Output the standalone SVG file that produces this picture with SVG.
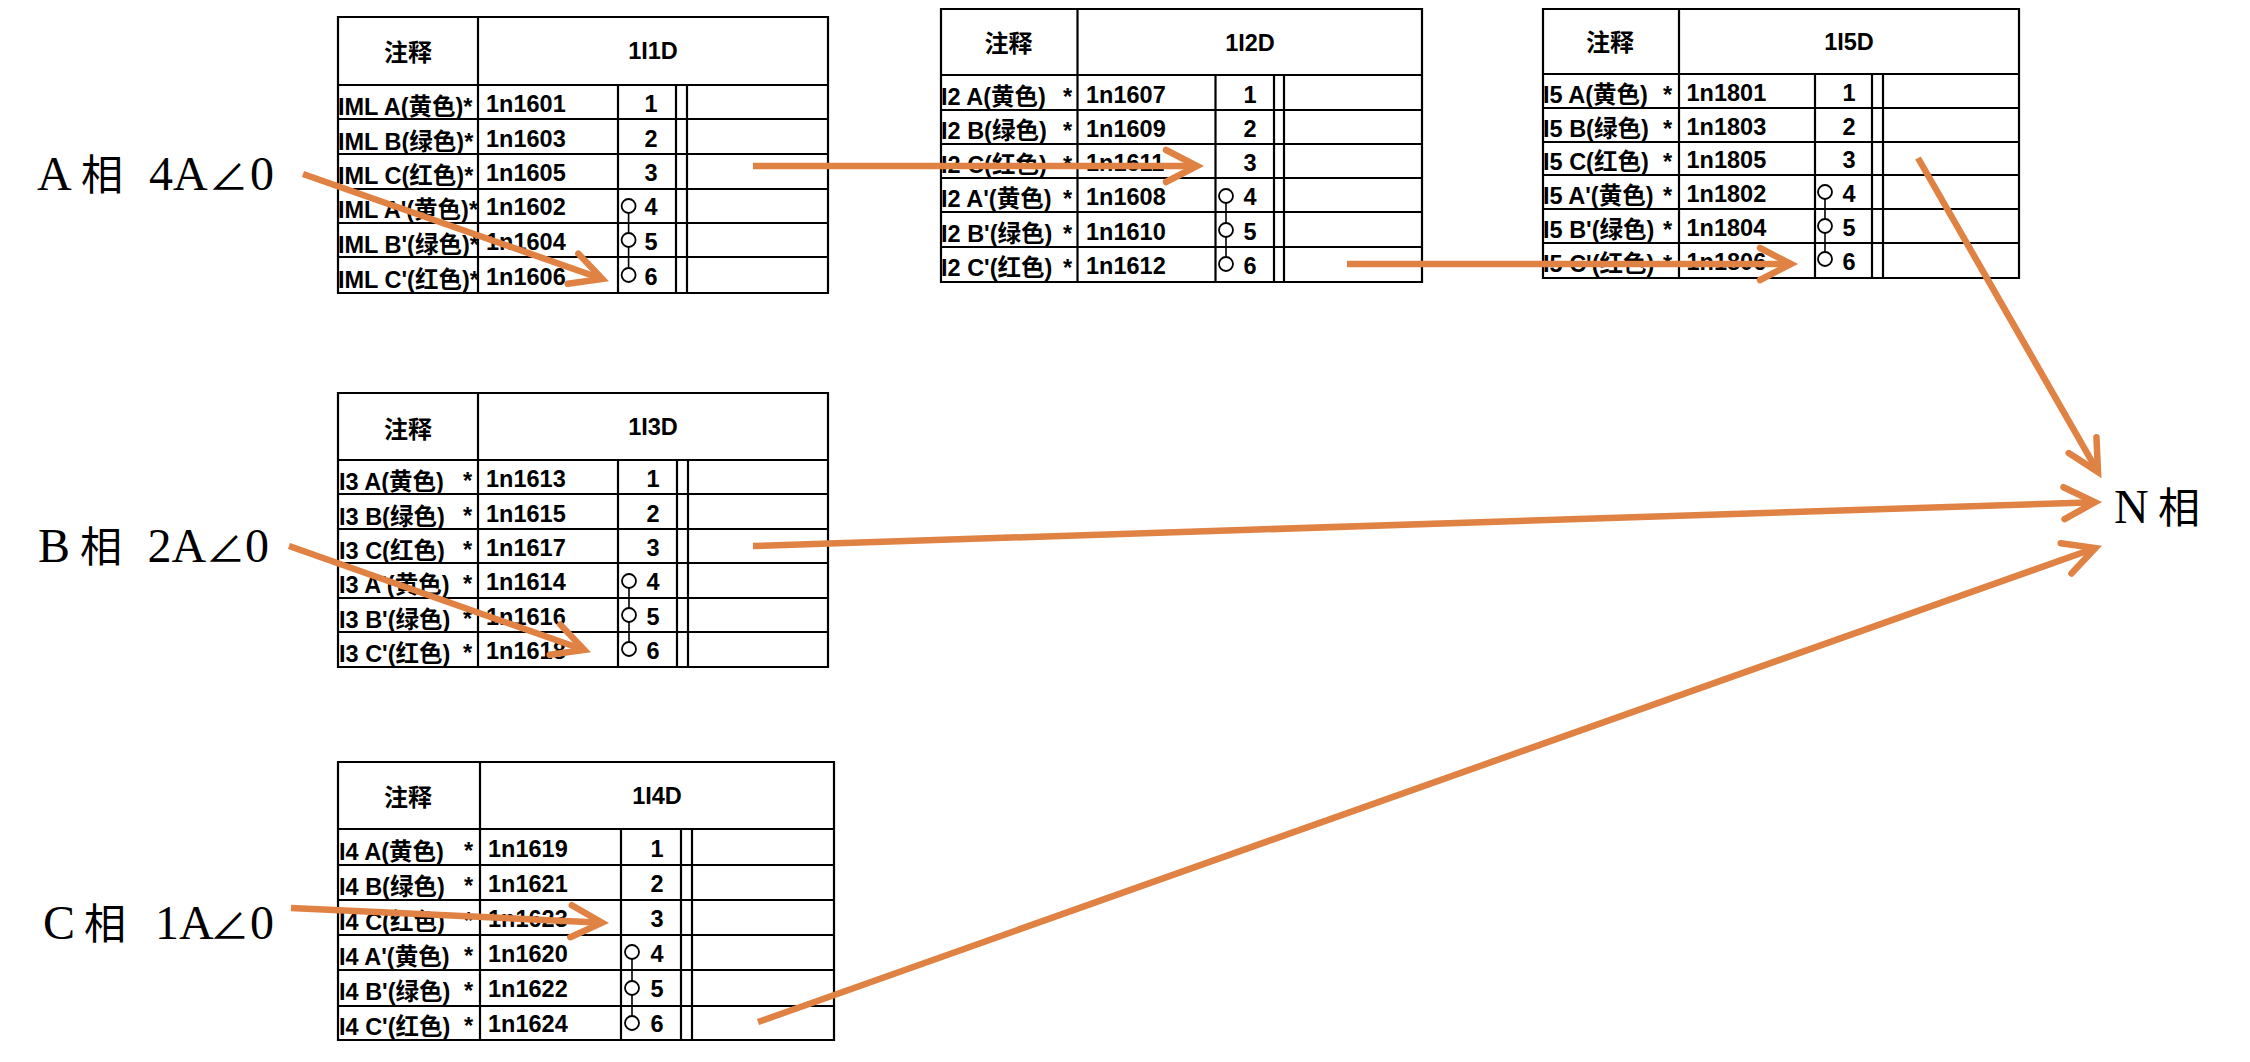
<svg xmlns="http://www.w3.org/2000/svg" width="2250" height="1062" viewBox="0 0 2250 1062">
<style>
text{fill:#000;font-family:"Liberation Sans","Noto Sans CJK SC",sans-serif;font-weight:700;font-size:23.5px}
.c{text-anchor:middle}
.h{font-size:24px}
.big{font-family:"Liberation Serif","Noto Sans CJK SC",serif;font-weight:400;font-size:48px}
.cjk{font-family:"Noto Sans CJK SC",sans-serif;font-weight:400;font-size:42px}
.ang{font-size:39px}
.grid{fill:none;stroke:#000;stroke-width:2.2}
.link{fill:none;stroke:#000;stroke-width:1.6}
circle{fill:#fff;stroke:#000;stroke-width:1.8}
.arrow{fill:none;stroke:#E08243;stroke-width:6.5;marker-end:url(#head)}
</style>
<defs>
<marker id="head" markerUnits="userSpaceOnUse" markerWidth="60" markerHeight="60" viewBox="-45 -30 60 60" refX="0" refY="0" orient="auto" overflow="visible">
<path d="M-31,-16L0,0L-31,16" fill="none" stroke="#E08243" stroke-width="6.5" stroke-linecap="round" stroke-linejoin="miter"/>
</marker>
</defs>

<g id="node-1I1D">
<path class="grid" d="M338,17H828V293H338ZM478,17V293M338,85H828M338,119H828M338,154H828M338,189H828M338,223H828M338,257H828M618,85V293M676,85V293M687,85V293"/>
<text class="h c" x="408" y="61">注释</text><text class="c" x="653" y="59">1I1D</text>
<text x="338" y="115">IML A(黄色)*</text><text x="486" y="112">1n1601</text><text class="c" x="651" y="112">1</text>
<text x="338" y="150">IML B(绿色)*</text><text x="486" y="147">1n1603</text><text class="c" x="651" y="147">2</text>
<text x="338" y="184">IML C(红色)*</text><text x="486" y="181">1n1605</text><text class="c" x="651" y="181">3</text>
<text x="338" y="218">IML A'(黄色)*</text><text x="486" y="215">1n1602</text><text class="c" x="651" y="215">4</text>
<text x="338" y="253">IML B'(绿色)*</text><text x="486" y="250">1n1604</text><text class="c" x="651" y="250">5</text>
<text x="338" y="288">IML C'(红色)*</text><text x="486" y="285">1n1606</text><text class="c" x="651" y="285">6</text>
<path class="link" d="M628.6,206V275"/><circle cx="628.6" cy="206" r="7"/><circle cx="628.6" cy="240" r="7"/><circle cx="628.6" cy="275" r="7"/>
</g>

<g id="node-1I2D">
<path class="grid" d="M941,9H1422V282H941ZM1077.5,9V282M941,75H1422M941,110H1422M941,144H1422M941,178H1422M941,212H1422M941,247H1422M1215.5,75V282M1274,75V282M1284,75V282"/>
<text class="h c" x="1008.6" y="52">注释</text><text class="c" x="1250" y="51">1I2D</text>
<text x="941" y="105">I2 A(黄色)</text><text x="1063" y="105">*</text><text x="1086" y="103">1n1607</text><text class="c" x="1250" y="103">1</text>
<text x="941" y="139">I2 B(绿色)</text><text x="1063" y="139">*</text><text x="1086" y="137">1n1609</text><text class="c" x="1250" y="137">2</text>
<text x="941" y="173">I2 C(红色)</text><text x="1063" y="173">*</text><text x="1086" y="171">1n1611</text><text class="c" x="1250" y="171">3</text>
<text x="941" y="207">I2 A'(黄色)</text><text x="1063" y="207">*</text><text x="1086" y="205">1n1608</text><text class="c" x="1250" y="205">4</text>
<text x="941" y="242">I2 B'(绿色)</text><text x="1063" y="242">*</text><text x="1086" y="240">1n1610</text><text class="c" x="1250" y="240">5</text>
<text x="941" y="276">I2 C'(红色)</text><text x="1063" y="276">*</text><text x="1086" y="274">1n1612</text><text class="c" x="1250" y="274">6</text>
<path class="link" d="M1226,196V264"/><circle cx="1226" cy="196" r="7"/><circle cx="1226" cy="230" r="7"/><circle cx="1226" cy="264" r="7"/>
</g>

<g id="node-1I5D">
<path class="grid" d="M1543,9H2019V278H1543ZM1679,9V278M1543,74H2019M1543,108H2019M1543,142H2019M1543,175H2019M1543,209H2019M1543,243H2019M1815,74V278M1872,74V278M1883,74V278"/>
<text class="h c" x="1610" y="51">注释</text><text class="c" x="1849" y="50">1I5D</text>
<text x="1543" y="103">I5 A(黄色)</text><text x="1663" y="103">*</text><text x="1686.5" y="101">1n1801</text><text class="c" x="1849" y="101">1</text>
<text x="1543" y="137">I5 B(绿色)</text><text x="1663" y="137">*</text><text x="1686.5" y="135">1n1803</text><text class="c" x="1849" y="135">2</text>
<text x="1543" y="170">I5 C(红色)</text><text x="1663" y="170">*</text><text x="1686.5" y="168">1n1805</text><text class="c" x="1849" y="168">3</text>
<text x="1543" y="204">I5 A'(黄色)</text><text x="1663" y="204">*</text><text x="1686.5" y="202">1n1802</text><text class="c" x="1849" y="202">4</text>
<text x="1543" y="238">I5 B'(绿色)</text><text x="1663" y="238">*</text><text x="1686.5" y="236">1n1804</text><text class="c" x="1849" y="236">5</text>
<text x="1543" y="272">I5 C'(红色)</text><text x="1663" y="272">*</text><text x="1686.5" y="270">1n1806</text><text class="c" x="1849" y="270">6</text>
<path class="link" d="M1825,192V259"/><circle cx="1825" cy="192" r="7"/><circle cx="1825" cy="226" r="7"/><circle cx="1825" cy="259" r="7"/>
</g>

<g id="node-1I3D">
<path class="grid" d="M338,393H828V667H338ZM478,393V667M338,460H828M338,494H828M338,529H828M338,563H828M338,598H828M338,632H828M618,460V667M677,460V667M688,460V667"/>
<text class="h c" x="408" y="438">注释</text><text class="c" x="653" y="435">1I3D</text>
<text x="339" y="490">I3 A(黄色)</text><text x="463" y="489">*</text><text x="486" y="487">1n1613</text><text class="c" x="653" y="487">1</text>
<text x="339" y="525">I3 B(绿色)</text><text x="463" y="524">*</text><text x="486" y="522">1n1615</text><text class="c" x="653" y="522">2</text>
<text x="339" y="559">I3 C(红色)</text><text x="463" y="558">*</text><text x="486" y="556">1n1617</text><text class="c" x="653" y="556">3</text>
<text x="339" y="593">I3 A'(黄色)</text><text x="463" y="592">*</text><text x="486" y="590">1n1614</text><text class="c" x="653" y="590">4</text>
<text x="339" y="628">I3 B'(绿色)</text><text x="463" y="627">*</text><text x="486" y="625">1n1616</text><text class="c" x="653" y="625">5</text>
<text x="339" y="662">I3 C'(红色)</text><text x="463" y="661">*</text><text x="486" y="659">1n1618</text><text class="c" x="653" y="659">6</text>
<path class="link" d="M629,581V649"/><circle cx="629" cy="581" r="7"/><circle cx="629" cy="615" r="7"/><circle cx="629" cy="649" r="7"/>
</g>

<g id="node-1I4D">
<path class="grid" d="M338,762H834V1040H338ZM480,762V1040M338,829H834M338,865H834M338,900H834M338,935H834M338,970H834M338,1006H834M621,829V1040M681,829V1040M692,829V1040"/>
<text class="h c" x="408" y="806">注释</text><text class="c" x="657" y="804">1I4D</text>
<text x="339" y="860">I4 A(黄色)</text><text x="464" y="859">*</text><text x="488" y="857">1n1619</text><text class="c" x="657" y="857">1</text>
<text x="339" y="895">I4 B(绿色)</text><text x="464" y="894">*</text><text x="488" y="892">1n1621</text><text class="c" x="657" y="892">2</text>
<text x="339" y="930">I4 C(红色)</text><text x="464" y="929">*</text><text x="488" y="927">1n1623</text><text class="c" x="657" y="927">3</text>
<text x="339" y="965">I4 A'(黄色)</text><text x="464" y="964">*</text><text x="488" y="962">1n1620</text><text class="c" x="657" y="962">4</text>
<text x="339" y="1000">I4 B'(绿色)</text><text x="464" y="999">*</text><text x="488" y="997">1n1622</text><text class="c" x="657" y="997">5</text>
<text x="339" y="1035">I4 C'(红色)</text><text x="464" y="1034">*</text><text x="488" y="1032">1n1624</text><text class="c" x="657" y="1032">6</text>
<path class="link" d="M632,952V1023"/><circle cx="632" cy="952" r="7"/><circle cx="632" cy="988" r="7"/><circle cx="632" cy="1023" r="7"/>
</g>

<g id="node-A"><text class="big" y="190"><tspan x="37">A</tspan><tspan class="cjk" x="81">相</tspan><tspan x="149">4A</tspan><tspan class="ang" x="209">∠</tspan><tspan x="250">0</tspan></text></g>
<g id="node-B"><text class="big" y="562"><tspan x="38">B</tspan><tspan class="cjk" x="80">相</tspan><tspan x="147.5">2A</tspan><tspan class="ang" x="206">∠</tspan><tspan x="245">0</tspan></text></g>
<g id="node-C"><text class="big" y="939"><tspan x="43">C</tspan><tspan class="cjk" x="84">相</tspan><tspan x="155">1A</tspan><tspan class="ang" x="210">∠</tspan><tspan x="250">0</tspan></text></g>
<g id="node-N"><text class="big" y="523"><tspan x="2114">N</tspan><tspan class="cjk" x="2158">相</tspan></text></g>

<g id="connectors">
<path class="arrow" d="M303,174L602.3,279"/>
<path class="arrow" d="M753,166H1197"/>
<path class="arrow" d="M1347,264H1791"/>
<path class="arrow" d="M1918,158L2098,472"/>
<path class="arrow" d="M753,546L2095,502.2"/>
<path class="arrow" d="M758,1022L2095.3,548"/>
<path class="arrow" d="M289,546L584.3,650"/>
<path class="arrow" d="M291,908L602,922.7"/>
</g>
</svg>
